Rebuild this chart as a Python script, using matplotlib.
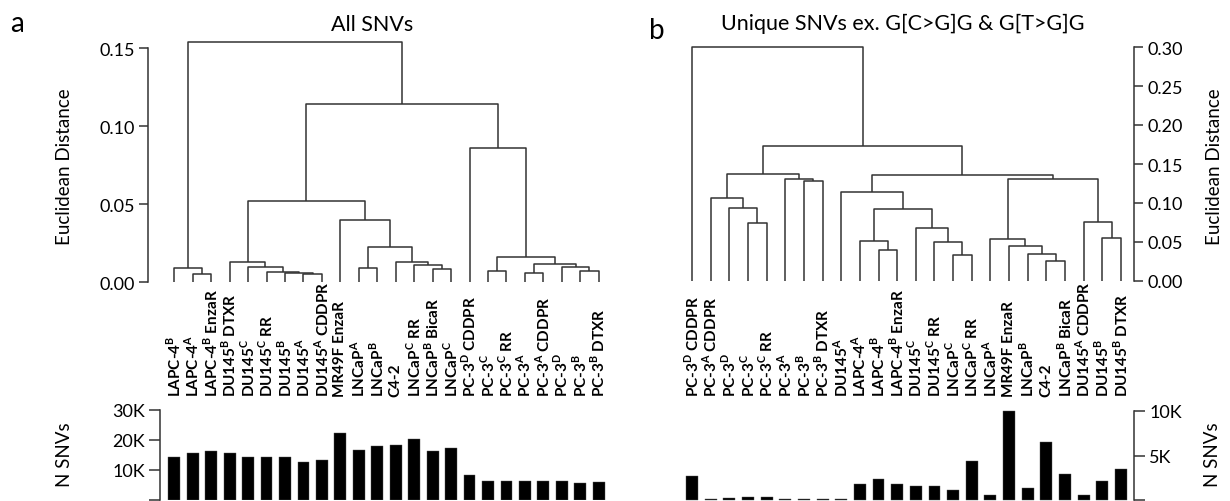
import matplotlib
matplotlib.use("Agg")
import matplotlib.pyplot as plt
import matplotlib.transforms as mtransforms

plt.rcParams['font.family'] = ['Lato', 'DejaVu Sans']
plt.rcParams['mathtext.fontset'] = 'custom'
plt.rcParams['mathtext.rm'] = 'Lato:bold'

# ---- panel a : all SNVs ----
labels_a = [
    r'LAPC-4$^\mathregular{B}$', r'LAPC-4$^\mathregular{A}$', r'LAPC-4$^\mathregular{B}$ EnzaR',
    r'DU145$^\mathregular{B}$ DTXR', r'DU145$^\mathregular{C}$', r'DU145$^\mathregular{C}$ RR',
    r'DU145$^\mathregular{B}$', r'DU145$^\mathregular{A}$', r'DU145$^\mathregular{A}$ CDDPR',
    'MR49F EnzaR', r'LNCaP$^\mathregular{A}$', r'LNCaP$^\mathregular{B}$', 'C4-2',
    r'LNCaP$^\mathregular{C}$ RR', r'LNCaP$^\mathregular{B}$ BicaR', r'LNCaP$^\mathregular{C}$',
    r'PC-3$^\mathregular{D}$ CDDPR', r'PC-3$^\mathregular{C}$', r'PC-3$^\mathregular{C}$ RR',
    r'PC-3$^\mathregular{A}$', r'PC-3$^\mathregular{A}$ CDDPR', r'PC-3$^\mathregular{D}$',
    r'PC-3$^\mathregular{B}$', r'PC-3$^\mathregular{B}$ DTXR',
]
# merges: (child, child, height); leaves 0..23 in plotted order, new nodes numbered from 24
merges_a = [
    (1, 2, 0.0056), (0, 24, 0.0090),
    (7, 8, 0.0052), (6, 26, 0.0062), (5, 27, 0.0069), (4, 28, 0.0100), (3, 29, 0.0132),
    (10, 11, 0.0094), (14, 15, 0.0084), (13, 32, 0.0113), (12, 33, 0.0128),
    (31, 34, 0.0229), (9, 35, 0.0401), (30, 36, 0.0519),
    (17, 18, 0.0074), (19, 20, 0.0062), (22, 23, 0.0072), (21, 40, 0.0098),
    (39, 41, 0.0117), (38, 42, 0.0160), (16, 43, 0.0861),
    (37, 44, 0.1143), (25, 45, 0.1538),
]
nsnv_a = [14500, 15700, 16200, 15700, 14500, 14200, 14200, 12700, 13400, 22200, 16600, 18000,
          18400, 20200, 16200, 17300, 8500, 6400, 6400, 6400, 6300, 6300, 5700, 5900]

# ---- panel b : unique SNVs ex. G[C>G]G & G[T>G]G ----
labels_b = [
    r'PC-3$^\mathregular{D}$ CDDPR', r'PC-3$^\mathregular{A}$ CDDPR', r'PC-3$^\mathregular{D}$',
    r'PC-3$^\mathregular{C}$', r'PC-3$^\mathregular{C}$ RR', r'PC-3$^\mathregular{A}$',
    r'PC-3$^\mathregular{B}$', r'PC-3$^\mathregular{B}$ DTXR', r'DU145$^\mathregular{A}$',
    r'LAPC-4$^\mathregular{A}$', r'LAPC-4$^\mathregular{B}$', r'LAPC-4$^\mathregular{B}$ EnzaR',
    r'DU145$^\mathregular{C}$', r'DU145$^\mathregular{C}$ RR', r'LNCaP$^\mathregular{C}$',
    r'LNCaP$^\mathregular{C}$ RR', r'LNCaP$^\mathregular{A}$', 'MR49F EnzaR',
    r'LNCaP$^\mathregular{B}$', 'C4-2', r'LNCaP$^\mathregular{B}$ BicaR',
    r'DU145$^\mathregular{A}$ CDDPR', r'DU145$^\mathregular{B}$', r'DU145$^\mathregular{B}$ DTXR',
]
merges_b = [
    (3, 4, 0.0743), (2, 24, 0.0937), (1, 25, 0.1066), (6, 7, 0.1280), (5, 27, 0.1306),
    (26, 28, 0.1367),
    (10, 11, 0.0400), (9, 30, 0.0511), (14, 15, 0.0335), (13, 32, 0.0498), (12, 33, 0.0683),
    (31, 34, 0.0928), (8, 35, 0.1147),
    (19, 20, 0.0262), (18, 37, 0.0352), (17, 38, 0.0447), (16, 39, 0.0541),
    (22, 23, 0.0550), (21, 41, 0.0761), (40, 42, 0.1302),
    (36, 43, 0.1362), (29, 44, 0.1736), (0, 45, 0.2997),
]
nsnv_b = [2690, 150, 190, 300, 370, 150, 150, 150, 100, 1790, 2350, 1830, 1600, 1530, 1160,
          4370, 600, 10000, 1340, 6500, 2950, 600, 2090, 3430]

LINE = '#333333'
FS_TICK = 13
FS_LAB = 13.5
FS_TITLE = 15.5
W, H = 1230, 502


def fig_rect(x0, x1, ytop, ybot):
    return [x0 / W, 1 - ybot / H, (x1 - x0) / W, (ybot - ytop) / H]


def draw_dendro(ax, merges, n):
    xs = {i: float(i) for i in range(n)}
    hs = {i: 0.0 for i in range(n)}
    for k, (a, b, h) in enumerate(merges):
        ax.plot([xs[a], xs[a], xs[b], xs[b]], [hs[a], h, h, hs[b]],
                color=LINE, lw=1.1, solid_capstyle='butt', clip_on=False)
        xs[n + k] = (xs[a] + xs[b]) / 2
        hs[n + k] = h


def style_axis(ax, side):
    for s in ax.spines.values():
        s.set_visible(False)
    ax.spines[side].set_visible(True)
    ax.spines[side].set_color(LINE)
    ax.spines[side].set_linewidth(1.1)
    ax.set_xticks([])
    ax.yaxis.set_ticks_position(side)
    ax.yaxis.set_label_position(side)
    ax.tick_params(axis='y', direction='out', length=6.5, width=1.1, color=LINE,
                   labelsize=FS_TICK, pad=3)
    ax.patch.set_alpha(0)


fig = plt.figure(figsize=(12.3, 5.02), dpi=100)

# panel a dendrogram
sp = 18.45
axa = fig.add_axes(fig_rect(148, 610, 283.3 - 0.158 * 1560, 283.3))
draw_dendro(axa, merges_a, len(labels_a))
axa.set_xlim(-(174.3 - 148) / sp, 23 + (610 - 598.7) / sp)
axa.set_ylim(0, 0.158)
style_axis(axa, 'left')
axa.spines['left'].set_bounds(0, 0.15)
axa.set_yticks([0, 0.05, 0.10, 0.15])
axa.set_yticklabels(['0.00', '0.05', '0.10', '0.15'])

# panel a bars
axa2 = fig.add_axes(fig_rect(160, 610, 411, 501))
axa2.bar(range(len(nsnv_a)), nsnv_a, width=0.64, color='black', edgecolor='#555555', lw=0.3)
axa2.set_xlim(-(174.3 - 160) / sp, 23 + (610 - 598.7) / sp)
axa2.set_ylim(0, 30000)
style_axis(axa2, 'left')
axa2.tick_params(axis='y', length=8)
axa2.set_yticks([0, 10000, 20000, 30000])
axa2.set_yticklabels(['', '10K', '20K', '30K'])

# panel b dendrogram
spb = 18.65
axb = fig.add_axes(fig_rect(670, 1134, 282 - 0.305 * 780, 282))
draw_dendro(axb, merges_b, len(labels_b))
axb.set_xlim(-(692 - 670) / spb, 23 + (1134 - 1121) / spb)
axb.set_ylim(0, 0.305)
style_axis(axb, 'right')
axb.spines['right'].set_bounds(0, 0.30)
axb.set_yticks([0, 0.05, 0.10, 0.15, 0.20, 0.25, 0.30])
axb.set_yticklabels(['0.00', '0.05', '0.10', '0.15', '0.20', '0.25', '0.30'])

# panel b bars
axb2 = fig.add_axes(fig_rect(670, 1134, 412, 501))
axb2.bar(range(len(nsnv_b)), nsnv_b, width=0.64, color='black', edgecolor='#555555', lw=0.3,
         clip_on=False)
axb2.set_xlim(-(692 - 670) / spb, 23 + (1134 - 1121) / spb)
axb2.set_ylim(0, 10000)
style_axis(axb2, 'right')
axb2.tick_params(axis='y', length=8)
axb2.set_yticks([0, 5000, 10000])
axb2.set_yticklabels(['', '5K', '10K'])

# leaf labels
ylab = 1 - 397 / H
for ax, labs in ((axa, labels_a), (axb, labels_b)):
    tr = mtransforms.blended_transform_factory(ax.transData, fig.transFigure)
    for i, lab in enumerate(labs):
        ax.text(i, ylab, lab, transform=tr, rotation=90, ha='center', va='bottom',
                fontsize=11, fontweight='bold', clip_on=False)

# titles, axis labels, panel letters
fig.text(372 / W, 1 - 25 / H, 'All SNVs', ha='center', va='center', fontsize=FS_TITLE)
fig.text(903 / W, 1 - 24 / H, 'Unique SNVs ex. G[C>G]G & G[T>G]G', ha='center', va='center',
         fontsize=FS_TITLE)
fig.text(17 / W, 1 - 24 / H, 'a', ha='center', va='center', fontsize=20)
fig.text(657 / W, 1 - 31 / H, 'b', ha='center', va='center', fontsize=20)
fig.text(65 / W, 1 - 167 / H, 'Euclidean Distance', rotation=90, ha='center', va='center',
         fontsize=FS_LAB)
fig.text(1215 / W, 1 - 167 / H, 'Euclidean Distance', rotation=90, ha='center', va='center',
         fontsize=FS_LAB)
fig.text(65 / W, 1 - 455 / H, 'N SNVs', rotation=90, ha='center', va='center', fontsize=FS_LAB)
fig.text(1213 / W, 1 - 455 / H, 'N SNVs', rotation=90, ha='center', va='center',
         fontsize=FS_LAB)

fig.savefig('out.png', dpi=100)
